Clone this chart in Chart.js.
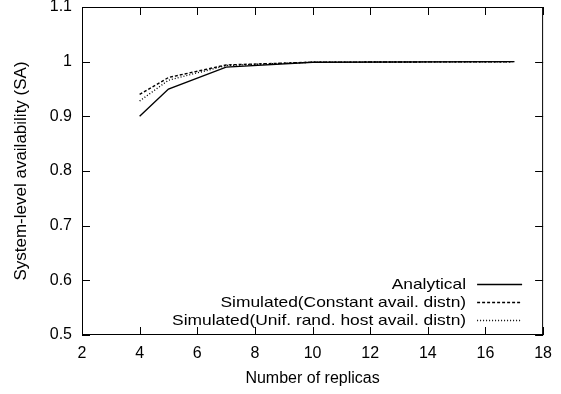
<!DOCTYPE html>
<html>
<head>
<meta charset="utf-8">
<script src="https://cdn.jsdelivr.net/npm/chart.js@4/dist/chart.umd.min.js"></script>
<style>
  html, body { margin: 0; padding: 0; background: #fff; }
  #wrap { width: 561px; height: 394px; }
</style>
</head>
<body>
<div id="wrap"><canvas id="myChart" width="561" height="394"></canvas></div>
<script>
// number of replicas
var replicas = [4, 5, 7, 10, 17];
// system-level availability
var analytical = [0.900, 0.950, 0.990, 0.999, 1.000];
var simConstant = [0.940, 0.971, 0.994, 0.999, 1.000];
var simUniform = [0.928, 0.966, 0.993, 0.999, 1.000];

var seriesNames = ["Analytical", "Simulated(Constant avail. distn)", "Simulated(Unif. rand. host avail. distn)"];
var seriesDash = [[], [3, 2], [1, 2]];

var xTicks = [2, 4, 6, 8, 10, 12, 14, 16, 18];
var yTicks = [0.5, 0.6, 0.7, 0.8, 0.9, 1, 1.1];

var fontName = "'Liberation Sans', Arial, sans-serif";

function toPoints(vals)
{
	var pts = [];
	for (var i = 0; i < replicas.length; i++)
	{
		pts.push({x: replicas[i], y: vals[i]});
	}
	return pts;
}

var allSeries = [analytical, simConstant, simUniform];
var datasets = [];
for (var i = 0; i < allSeries.length; i++)
{
	datasets.push({
		label: seriesNames[i],
		data: toPoints(allSeries[i]),
		borderColor: '#000',
		borderWidth: 1.4,
		borderDash: seriesDash[i],
		pointRadius: 0,
		fill: false,
		tension: 0
	});
}

// gnuplot style frame with inward ticks, plus the legend in the lower right
var framePlugin = {
	id: 'frame',
	afterDraw: function(chart)
	{
		var ctx = chart.ctx;
		var a = chart.chartArea;
		var xs = chart.scales.x, ys = chart.scales.y;
		ctx.save();
		ctx.strokeStyle = '#000';
		ctx.lineWidth = 1;
		ctx.setLineDash([]);
		ctx.strokeRect(a.left + 0.5, a.top + 0.5, a.right - a.left - 1, a.bottom - a.top - 1);
		ctx.beginPath();
		for (var i = 0; i < xTicks.length; i++)
		{
			var px = Math.round(xs.getPixelForValue(xTicks[i])) + 0.5;
			ctx.moveTo(px, a.bottom); ctx.lineTo(px, a.bottom - 8);
			ctx.moveTo(px, a.top); ctx.lineTo(px, a.top + 8);
		}
		for (var j = 0; j < yTicks.length; j++)
		{
			var py = Math.round(ys.getPixelForValue(yTicks[j])) + 0.5;
			ctx.moveTo(a.left, py); ctx.lineTo(a.left + 8, py);
			ctx.moveTo(a.right, py); ctx.lineTo(a.right - 8, py);
		}
		ctx.stroke();

		// legend (text is a bit wide in the original, so stretch it)
		ctx.font = '15px ' + fontName;
		ctx.fillStyle = '#000';
		ctx.textAlign = 'right';
		ctx.textBaseline = 'middle';
		var rowY = [284, 302, 320];
		var sx = 1.16;
		for (var k = 0; k < seriesNames.length; k++)
		{
			ctx.save();
			ctx.translate(a.right - 77, rowY[k] + 1);
			ctx.scale(sx, 1);
			ctx.fillText(seriesNames[k], 0, 0);
			ctx.restore();
			ctx.beginPath();
			ctx.lineWidth = 1.4;
			ctx.setLineDash(seriesDash[k]);
			ctx.moveTo(a.right - 66, rowY[k] + 0.5);
			ctx.lineTo(a.right - 21, rowY[k] + 0.5);
			ctx.stroke();
		}
		ctx.restore();
	}
};

var myChart = document.getElementById('myChart').getContext('2d');
var lineChart = new Chart(myChart, {
	type: 'line',
	data: { datasets: datasets },
	options: {
		responsive: false,
		animation: false,
		layout: { padding: { top: 7, right: 17, left: 0, bottom: 0 } },
		plugins: {
			legend: { display: false },
			tooltip: { enabled: false }
		},
		scales: {
			x: {
				type: 'linear',
				min: 2, max: 18,
				afterBuildTicks: function(s) { s.ticks = xTicks.map(function(v) { return {value: v}; }); },
				afterFit: function(s) { s.height = 59; },
				grid: { display: false, drawTicks: false },
				border: { display: false },
				ticks: { color: '#000', font: { family: fontName, size: 16 }, padding: 9, maxRotation: 0 },
				title: { display: true, text: 'Number of replicas', color: '#000', font: { family: fontName, size: 16 }, padding: { top: 0, bottom: 6 } }
			},
			y: {
				type: 'linear',
				min: 0.5, max: 1.1,
				afterBuildTicks: function(s) { s.ticks = yTicks.map(function(v) { return {value: v}; }); },
				afterFit: function(s) { s.width = 82; s.paddingTop = 0; s.paddingBottom = 0; },
				grid: { display: false, drawTicks: false },
				border: { display: false },
				ticks: {
					color: '#000', font: { family: fontName, size: 16 }, padding: 10,
					callback: function(v) { return String(Math.round(v * 10) / 10); }
				},
				title: { display: true, text: 'System-level availability (SA)', color: '#000', font: { family: fontName, size: 17 }, padding: { top: 11, bottom: 0 } }
			}
		}
	},
	plugins: [framePlugin]
});
</script>
</body>
</html>
